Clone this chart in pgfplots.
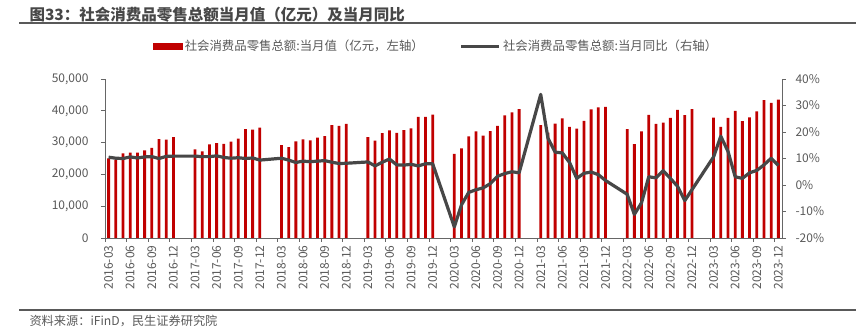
\documentclass[border=0pt]{standalone}
\usepackage{pgfplots}
\usepackage{pgfplotstable}
\pgfplotsset{compat=1.18}
\usepackage{fontspec}
\setmainfont{Noto Sans CJK SC}
\definecolor{barred}{HTML}{C00000}
\definecolor{linegray}{HTML}{474747}
\definecolor{txtgray}{HTML}{595959}
\definecolor{axgray}{HTML}{666666}

\pgfplotstableread{
x val yoy
0 25047 10.5
1 24646 10.1
2 26611 10.0
3 26857 10.6
4 26827 10.2
5 27540 10.6
6 28333 10.7
7 31119 10.0
8 30959 10.8
9 31757 10.9
12 27864 10.9
13 27279 10.7
14 29459 10.7
15 29808 11.0
16 29610 10.4
17 30330 10.1
18 31252 10.3
19 34241 10.0
20 34108 10.2
21 34734 9.4
24 29194 10.1
25 28542 9.4
26 30359 8.5
27 31001 9.0
28 30734 8.8
29 31542 9.0
30 32005 9.2
31 35534 8.6
32 35260 8.1
33 35893 8.2
36 31726 8.7
37 30586 7.2
38 32956 8.6
39 33878 9.8
40 33073 7.6
41 33896 7.5
42 34495 7.8
43 38104 7.2
44 38094 8.0
45 38777 8.0
48 26450 -15.8
49 28178 -7.5
50 31973 -2.8
51 33526 -1.8
52 32203 -1.1
53 33571 0.5
54 35295 3.3
55 38576 4.3
56 39514 5.0
57 40566 4.6
60 35484 34.2
61 33153 17.7
62 35945 12.4
63 37586 12.1
64 34925 8.5
65 34395 2.5
66 36833 4.4
67 40454 4.9
68 41043 3.9
69 41269 1.7
72 34233 -3.5
73 29483 -11.1
74 33547 -6.7
75 38742 3.1
76 35870 2.7
77 36258 5.4
78 37745 2.5
79 40271 -0.5
80 38615 -5.9
81 40542 -1.8
84 37855 10.6
85 34910 18.4
86 37803 12.7
87 39951 3.1
88 36761 2.5
89 37933 4.6
90 39826 5.5
91 43333 7.6
92 42505 10.1
93 43550 7.4
}\datatable

\pgfplotsset{
  base/.style={
    scale only axis, width=677pt, height=159pt,
    at={(105pt,94pt)}, anchor=south west,
    xmin=-0.5, xmax=93.5,
    tick align=outside,
    major tick length=4pt, minor tick length=4pt,
    tick label style={font=\fontsize{12}{14}\selectfont, text=txtgray},
    /pgf/number format/assume math mode=true,
    axis line style={draw=axgray, line width=0.9pt},
    every tick/.style={draw=axgray, line width=0.9pt},
  }
}

\begin{document}
\begin{tikzpicture}
\useasboundingbox (0pt,0pt) rectangle (862pt,332pt);

\begin{axis}[base,
  axis x line*=bottom, axis y line*=left,
  ymin=0, ymax=50000, ytick={0,10000,...,50000},
  scaled y ticks=false,
  yticklabel style={/pgf/number format/.cd, 1000 sep={,}, /tikz/.cd, xshift=-9pt},
  xtick={0,3,...,93},
  xticklabels={2016-03,2016-06,2016-09,2016-12,2017-03,2017-06,2017-09,2017-12,2018-03,2018-06,2018-09,2018-12,2019-03,2019-06,2019-09,2019-12,2020-03,2020-06,2020-09,2020-12,2021-03,2021-06,2021-09,2021-12,2022-03,2022-06,2022-09,2022-12,2023-03,2023-06,2023-09,2023-12},
  xticklabel style={rotate=90, anchor=east},
  major x tick style={draw=none},
  minor xtick={-0.5,2.5,...,92.5},
  legend style={at={(0.489,1.205)}, anchor=center, draw=none, fill=none,
    font=\fontsize{12.4}{14}\selectfont, text=txtgray,
    /tikz/every even column/.append style={column sep=34pt},
    inner sep=0pt},
  legend columns=2,
]
\addplot[ybar, bar width=2.8pt, fill=barred, draw=none,
  legend image code/.code={\fill[barred] (0pt,-3.5pt) rectangle (30pt,3.5pt);}]
  table[x=x, y=val] {\datatable};
\addlegendentry{社会消费品零售总额:当月值（亿元，左轴）}
\addlegendimage{legend image code/.code={\draw[linegray, line width=3.2pt] (0pt,0pt) -- (38pt,0pt);}}
\addlegendentry{社会消费品零售总额:当月同比（右轴）}
\end{axis}

\begin{axis}[base,
  axis x line=none, axis y line*=right,
  ymin=-20, ymax=40, ytick={-20,-10,...,40},
  yticklabel={\pgfmathprintnumber{\tick}\%},
  yticklabel style={anchor=west, xshift=6pt},
]
\addplot[linegray, line width=3.2pt, line join=round, mark=none]
  table[x=x, y=yoy] {\datatable};
\end{axis}

\node[anchor=west, font=\fontsize{15.5}{17}\selectfont\bfseries, text=linegray] at (26pt,317pt) {图33：社会消费品零售总额当月值（亿元）及当月同比};
\draw[txtgray, line width=1.2pt] (19pt,309pt) -- (856pt,309pt);
\draw[txtgray, line width=1.2pt] (19pt,22pt) -- (856pt,22pt);
\node[anchor=west, font=\fontsize{12.2}{14}\selectfont, text=txtgray] at (26pt,11pt) {资料来源：iFinD，民生证券研究院};
\end{tikzpicture}
\end{document}
